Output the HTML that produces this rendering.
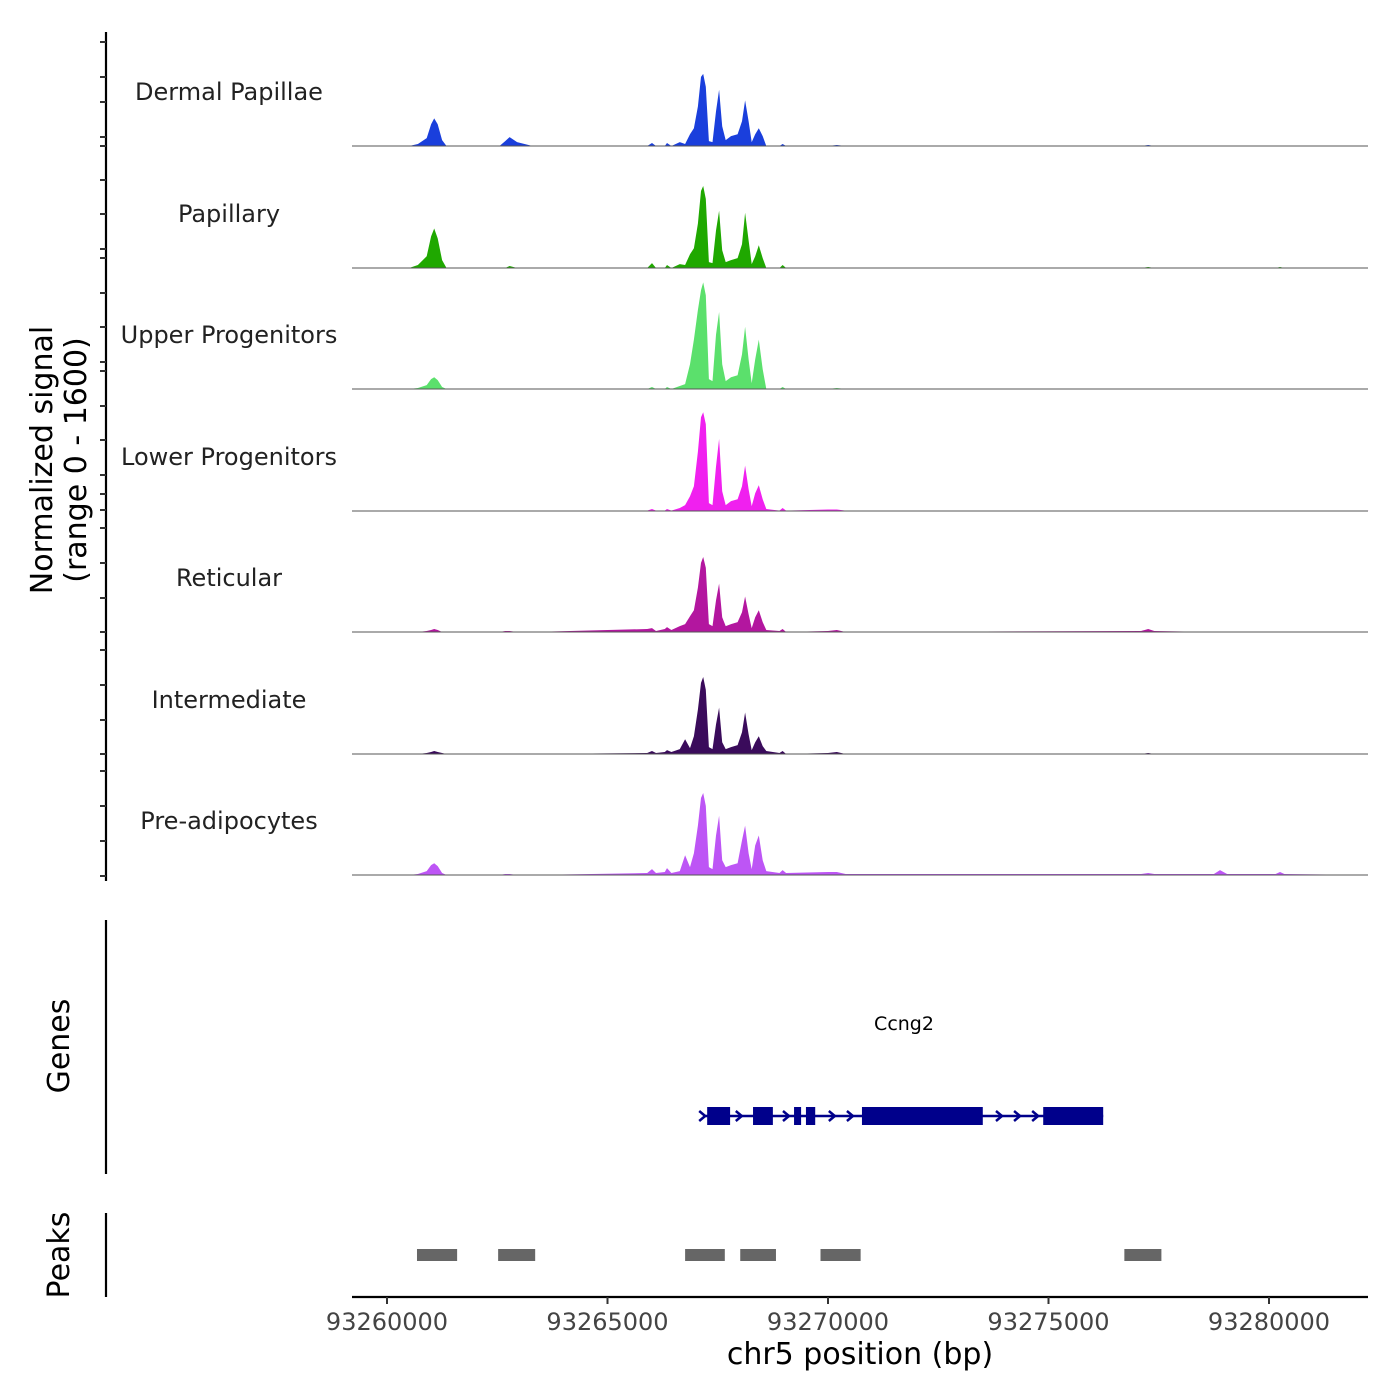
<!DOCTYPE html>
<html><head><meta charset="utf-8"><style>
html,body{margin:0;padding:0;background:#fff;}
svg{display:block;font-family:"DejaVu Sans","Liberation Sans",sans-serif;}
</style></head><body>
<svg id="chart" width="1400" height="1400" viewBox="0 0 1400 1400">
<g id="tracks"></g>
<g id="yaxis"></g>
<g id="genes"></g>
<g id="peaks"></g>
<g id="xaxis"></g>
<text x="0" y="0" transform="translate(52,460) rotate(-90)" text-anchor="middle" font-size="30" fill="#000">Normalized signal</text>
<text x="0" y="0" transform="translate(86,460) rotate(-90)" text-anchor="middle" font-size="30" fill="#000">(range 0 - 1600)</text>
<text x="0" y="0" transform="translate(69,1046) rotate(-90)" text-anchor="middle" font-size="30" fill="#000">Genes</text>
<text x="0" y="0" transform="translate(69,1255) rotate(-90)" text-anchor="middle" font-size="30" fill="#000">Peaks</text>
<text x="860" y="1364" text-anchor="middle" font-size="30" fill="#000">chr5 position (bp)</text>
</svg>
<script>
const NS="http://www.w3.org/2000/svg";
// genomic positions in kb relative to 93260000
const kbGrid=[-0.8,0.5,0.7,0.9,1.0,1.07,1.15,1.25,1.35,2.55,2.68,2.78,2.95,3.3,5.9,6.01,6.1,6.3,6.35,6.45,6.64,6.76,6.87,6.96,7.05,7.12,7.17,7.23,7.30,7.38,7.46,7.53,7.6,7.68,7.8,7.95,8.05,8.12,8.2,8.27,8.35,8.43,8.52,8.6,8.9,8.97,9.05,10.0,10.2,10.4,17.1,17.26,17.4,18.75,18.89,19.05,20.15,20.25,20.35,22.25];
const trackNames=["Dermal Papillae","Papillary","Upper Progenitors","Lower Progenitors","Reticular","Intermediate","Pre-adipocytes"];
const trackColors=["#1a3fdc","#1fa800","#5be06c","#f020ef","#b3169f","#3a0b5b","#bd55f5"];
const sigDermal=[0,0,26,104,286,364,286,78,0,0,65,117,52,0,0,39,0,0,39,0,52,26,156,234,520,910,950,780,65,52,455,740,260,78,130,156,325,600,325,52,156,234,130,0,0,26,0,0,13,0,0,13,0,0,0,0,0,0,0,0];
const sigPapillary=[0,0,39,156,416,520,390,104,0,0,0,26,0,0,0,65,0,0,39,0,52,39,182,260,585,1014,1080,910,78,65,494,754,234,78,104,130,312,728,364,52,156,299,130,0,0,39,0,0,0,0,0,13,0,0,0,0,0,13,0,0];
const sigUpper=[0,0,13,52,130,156,117,26,0,0,0,0,0,0,0,26,0,0,26,0,39,65,325,650,1040,1300,1404,1235,130,104,715,1014,325,104,156,182,455,819,390,78,390,650,260,0,0,26,0,0,13,0,0,0,0,0,0,0,0,0,0,0];
const sigLower=[0,5,5,5,5,5,5,5,5,5,5,5,5,5,5,26,5,5,26,5,39,78,195,325,780,1235,1300,1144,104,78,585,949,260,78,130,156,325,598,286,65,234,338,156,26,5,39,5,20,20,5,5,5,5,5,5,5,5,5,5,5];
const sigReticular=[0,0,0,13,26,39,26,0,0,0,13,13,0,0,39,52,13,39,65,26,78,104,208,286,585,910,988,845,104,78,416,637,195,78,104,130,260,468,234,52,195,286,130,26,13,39,0,13,26,0,13,39,13,0,0,0,0,0,0,0];
const sigIntermediate=[0,0,0,13,26,39,26,13,0,0,0,0,0,0,13,39,13,26,52,26,65,195,78,234,585,936,1014,845,91,65,390,611,156,65,91,117,286,546,260,52,156,234,104,39,13,39,0,13,26,0,0,13,0,0,0,0,0,0,0,0];
const sigPreadipo=[0,0,13,52,130,156,117,26,0,0,13,13,0,0,26,78,26,39,91,26,52,260,104,286,650,1014,1080,910,104,78,520,780,195,104,130,156,455,650,286,78,390,520,195,52,26,65,26,39,39,13,13,26,13,13,65,13,13,39,13,0];
const allSignals=[sigDermal,sigPapillary,sigUpper,sigLower,sigReticular,sigIntermediate,sigPreadipo];
const xTickKb=[0,5,10,15,20];
const xTickLabels=["93260000","93265000","93270000","93275000","93280000"];
const exonStartKb=[7.26,8.30,9.23,9.50,10.77,14.88];
const exonEndKb=[7.78,8.75,9.39,9.71,13.51,16.24];
const arrowKb=[7.17,8.0,9.07,10.11,10.52,13.9,14.31,14.72];
const geneStartKb=7.17, geneEndKb=16.24;
const peakStartKb=[0.68,2.52,6.76,8.01,9.83,16.72];
const peakEndKb=[1.59,3.36,7.66,8.82,10.74,17.56];
const yTickPx=[42,77,102,137,146,180,214,249,258,293,327,362,371,406,440,475,494,510,528,563,598,632,650,685,720,754,771,806,841,876];

const X0=387, PXKB=44.1, XL=352, XR=1368;
const xs=kb=>X0+kb*PXKB;
const baselines=[146,268,389,511,632,754,875];
const ys=(v,b)=>b-v/1600*121.5;
function mk(tag,attrs,parent){const e=document.createElementNS(NS,tag);for(const k in attrs)e.setAttribute(k,attrs[k]);parent.appendChild(e);return e;}

const tg=document.getElementById('tracks');
allSignals.forEach((sig,i)=>{
  const b=baselines[i];
  let d=`M${xs(kbGrid[0])},${b}`;
  kbGrid.forEach((k,j)=>{d+=` L${xs(k).toFixed(1)},${ys(sig[j],b).toFixed(1)}`;});
  d+=` L${xs(kbGrid[kbGrid.length-1])},${b} Z`;
  const p=mk('path',{d:d,fill:trackColors[i]},tg);
  
  
  const l=mk('line',{x1:XL,x2:XR,y1:b,y2:b,stroke:'#555','stroke-width':1},tg);
  
  
  const t=mk('text',{x:229,y:b-46,'text-anchor':'middle','font-size':24,fill:'#222'},tg);
  t.textContent=trackNames[i];
  
  
});

const ya=document.getElementById('yaxis');
mk('line',{x1:106,x2:106,y1:32,y2:881,stroke:'#000','stroke-width':2.2},ya);
yTickPx.forEach(y=>{const t=mk('line',{x1:100,x2:106,y1:y,y2:y,stroke:'#333','stroke-width':2},ya);
  
  });

const gg=document.getElementById('genes');
mk('line',{x1:106,x2:106,y1:920,y2:1174,stroke:'#000','stroke-width':2.2},gg);
mk('line',{x1:xs(geneStartKb),x2:xs(geneEndKb),y1:1116,y2:1116,stroke:'#00008b','stroke-width':2.5},gg);
arrowKb.forEach(k=>{const x=xs(k);const a=mk('path',{d:`M${x-4},${1111} L${x+2},${1116} L${x-4},${1121}`,fill:'none',stroke:'#00008b','stroke-width':2.5},gg);
  
  });
exonStartKb.forEach((s,i)=>{const r=mk('rect',{x:xs(s),y:1107,width:xs(exonEndKb[i])-xs(s),height:18,fill:'#00008b'},gg);
  
  });
const gl=mk('text',{x:904,y:1030,'text-anchor':'middle','font-size':19,fill:'#000'},gg);
gl.textContent='Ccng2';



const pg=document.getElementById('peaks');
mk('line',{x1:106,x2:106,y1:1213,y2:1297,stroke:'#000','stroke-width':2.2},pg);
peakStartKb.forEach((s,i)=>{const r=mk('rect',{x:xs(s),y:1249,width:xs(peakEndKb[i])-xs(s),height:12,fill:'#666'},pg);
  
  });

const xa=document.getElementById('xaxis');
mk('line',{x1:XL,x2:XR,y1:1297,y2:1297,stroke:'#000','stroke-width':2.2},xa);
xTickKb.forEach((k,i)=>{const x=xs(k);
  mk('line',{x1:x,x2:x,y1:1297,y2:1304,stroke:'#333','stroke-width':2},xa);
  const t=mk('text',{x:x,y:1330,'text-anchor':'middle','font-size':24,fill:'#444'},xa);
  t.textContent=xTickLabels[i];
  
  });
</script>
</body></html>
